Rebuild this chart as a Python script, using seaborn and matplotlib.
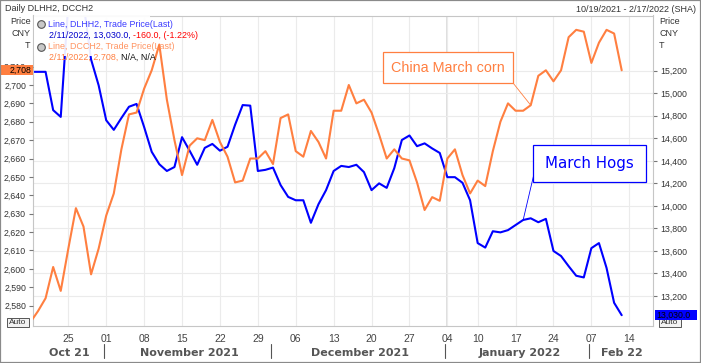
import pandas as pd
import matplotlib
matplotlib.use("Agg")
import matplotlib.pyplot as plt
import seaborn as sns
from matplotlib.lines import Line2D
from matplotlib.patches import Rectangle
from matplotlib.transforms import blended_transform_factory

# DCE trading days; data through 2/11/2022, axis runs to 2/17/2022
holidays = ["2022-01-03", "2022-01-31", "2022-02-01", "2022-02-02", "2022-02-03", "2022-02-04"]
axis_days = pd.bdate_range("2021-10-18", "2022-02-17").drop(pd.to_datetime(holidays))
data_days = axis_days[axis_days <= "2022-02-11"]

# DLHH2 live hogs (right scale)
hogs = [15190, 15190, 15190, 14850, 14790, 15800, 15850, 15800, 15300, 15070,
        14760, 14675, 14780, 14880, 14905, 14700, 14480, 14370, 14310, 14345,
        14610, 14490, 14365, 14515, 14550, 14490, 14525, 14720, 14895, 14890,
        14310, 14320, 14340, 14185, 14080, 14050, 14050, 13850, 14015, 14140,
        14310, 14355, 14345, 14365, 14300, 14140, 14200, 14160, 14335, 14585,
        14625, 14530, 14555, 14510, 14470, 14255, 14255, 14205, 14050, 13670,
        13630, 13775, 13765, 13785, 13830, 13875, 13890, 13855, 13885, 13600,
        13555, 13465, 13380, 13365, 13625, 13670, 13450, 13140, 13030]

# DCCH2 corn (left scale)
corn = [2571, 2577, 2584, 2601, 2588, 2611, 2633, 2623, 2597, 2611,
        2629, 2641, 2665, 2684, 2685, 2698, 2708, 2722, 2692, 2670,
        2651, 2667, 2671, 2670, 2681, 2669, 2661, 2647, 2648, 2660,
        2660, 2664, 2657, 2682, 2684, 2664, 2661, 2675, 2669, 2660,
        2686, 2686, 2700, 2690, 2692, 2685, 2673, 2660, 2665, 2660,
        2659, 2647, 2632, 2639, 2637, 2660, 2665, 2651, 2641, 2648,
        2645, 2664, 2680, 2690, 2686, 2686, 2689, 2705, 2708, 2702,
        2708, 2726, 2730, 2729, 2712, 2723, 2730, 2728, 2708]

day_ticks = ["2021-10-25", "2021-11-01", "2021-11-08", "2021-11-15", "2021-11-22",
             "2021-11-29", "2021-12-06", "2021-12-13", "2021-12-20", "2021-12-27",
             "2022-01-04", "2022-01-10", "2022-01-17", "2022-01-24", "2022-02-07",
             "2022-02-14"]
month_starts = ["2021-11-01", "2021-12-01", "2022-01-04", "2022-02-07"]
month_labels = ["Oct 21", "November 2021", "December 2021", "January 2022", "Feb 22"]

hog_ticks = list(range(13200, 15201, 200))
corn_ticks = list(range(2580, 2711, 10))

BLUE = "#0000ff"
ORANGE = "#ff7f40"
W, H = 701, 363

sns.set_style("white")
plt.rcParams["font.family"] = ["Liberation Sans", "DejaVu Sans"]

df = pd.DataFrame({"day": range(len(data_days)), "hogs": hogs, "corn": corn})
pos = {d: i for i, d in enumerate(axis_days)}
tick_idx = [pos[pd.Timestamp(d)] for d in day_ticks]
bound_idx = [pos[pd.Timestamp(d)] for d in month_starts]

fig = plt.figure(figsize=(W / 100, H / 100), dpi=100)
ax = fig.add_axes([33 / W, 1 - 326 / H, 620 / W, 310.5 / H])
ax2 = ax.twinx()


def fx(x):
    return x / W


def fy(y):
    return 1 - y / H


sns.lineplot(data=df, x="day", y="hogs", ax=ax, color=BLUE, linewidth=1.5, legend=False)
sns.lineplot(data=df, x="day", y="corn", ax=ax2, color=ORANGE, linewidth=1.5, legend=False)

xmax = len(axis_days) - 1 + 0.13
ax.set_xlim(0.34, xmax)
ax.set_ylim(12934, 15690)
ax2.set_ylim(2568.9, 2737.8)
for a in (ax, ax2):
    a.set_xlabel("")
    a.set_ylabel("")

# right scale (hogs) on the primary axes, left scale (corn) on the twin
ax.yaxis.tick_right()
ax2.yaxis.tick_left()
ax.set_yticks(hog_ticks)
ax.set_yticklabels([f"{v:,}" for v in hog_ticks])
ax2.set_yticks(corn_ticks)
ax2.set_yticklabels([f"{v:,}" for v in corn_ticks])
ax.tick_params(axis="y", length=3, width=0.8, color="#777", labelsize=6.3,
               labelcolor="#333", pad=2)
ax2.tick_params(axis="y", length=3, width=0.8, color="#777", labelsize=6.3,
                labelcolor="#333", pad=2)

ax.set_xticks(tick_idx)
ax.set_xticklabels([d[-2:] for d in day_ticks])
ax.tick_params(axis="x", length=2.5, width=0.8, color="#999", labelsize=7.5,
               labelcolor="#444", pad=3)

ax.grid(True, color="#ebebeb", linewidth=0.8)
ax.set_axisbelow(True)
ax.axvline(pos[pd.Timestamp("2022-01-04")], color="#dcdcdc", linewidth=1.3, zorder=0)
ax2.grid(False)
for s in ax.spines.values():
    s.set_color("#c6c6c6")
    s.set_linewidth(0.8)
for s in ax2.spines.values():
    s.set_visible(False)

# month row
trans = blended_transform_factory(ax.transData, fig.transFigure)
edges = [0.34] + bound_idx + [xmax]
for lab, a, b in zip(month_labels, edges[:-1], edges[1:]):
    ax.text((a + b) / 2, fy(352.5), lab, transform=trans, ha="center", va="center",
            fontsize=8, fontweight="bold", color="#555", family="DejaVu Sans")
for b in bound_idx:
    fig.add_artist(Line2D([b - 0.25, b - 0.25], [fy(344), fy(358)], transform=trans,
                          color="#555", linewidth=0.8))

# header
fig.text(fx(5), fy(8.5), "Daily DLHH2, DCCH2", fontsize=6.5, color="#333", va="center")
fig.text(fx(696), fy(9), "10/19/2021 - 2/17/2022 (SHA)", fontsize=6.5, color="#333",
         va="center", ha="right")
for t, yy in zip(["Price", "CNY", "T"], [22, 33.5, 45]):
    fig.text(fx(30.5), fy(yy), t, fontsize=6.5, color="#333", va="center", ha="right")
    fig.text(fx(659), fy(yy), t, fontsize=6.5, color="#333", va="center", ha="left")

# legend panel: lines run underneath it
fig.add_artist(Rectangle((fx(34), fy(56)), 116 / W, 39.5 / H, transform=fig.transFigure,
                         facecolor="white", edgecolor="none", alpha=0.92, zorder=1))

fig.canvas.draw()
renderer = fig.canvas.get_renderer()


def row(x, y, parts):
    for txt, col in parts:
        t = fig.text(fx(x), fy(y), txt, fontsize=6.4, color=col, va="center")
        x = t.get_window_extent(renderer).x1


for yy in (24.3, 46.7):
    fig.add_artist(Line2D([fx(40.5)], [fy(yy)], marker="o", markersize=5.5,
                          markerfacecolor="#c8c8c8", markeredgecolor="#555",
                          markeredgewidth=0.8, transform=fig.transFigure))
row(48.3, 24.3, [("Line, DLHH2, Trade Price(Last)", "#3a3aff")])
row(49, 35, [("2/11/2022, 13,030.0, ", "#0000cc"), ("-160.0, (-1.22%)", "#ff0000")])
row(48.3, 46.7, [("Line, DCCH2, Trade Price(Last)", "#ff9360")])
row(49, 57.3, [("2/11/2022, 2,708, ", ORANGE), ("N/A, N/A", "#111")])

# last-value markers on the scales
y_c = ax2.transData.transform((0, corn[-1]))[1]
fig.add_artist(Rectangle((0, (y_c - 5) / H), 33 / W, 10 / H, transform=fig.transFigure,
                         facecolor=ORANGE, edgecolor="none"))
fig.text(fx(31.5), y_c / H, f"{corn[-1]:,}", fontsize=6.3, color="#000", va="center",
         ha="right")
y_h = ax.transData.transform((0, hogs[-1]))[1]
fig.add_artist(Rectangle((fx(655), (y_h - 4.7) / H), 42 / W, 9.4 / H,
                         transform=fig.transFigure, facecolor=BLUE, edgecolor="none",
                         zorder=2))
fig.text(fx(656), y_h / H, f"{hogs[-1]:,.1f}", fontsize=6.3, color="#000", va="center",
         ha="left", zorder=3)

# Auto buttons
for x0 in (7, 659):
    fig.add_artist(Rectangle((fx(x0), fy(327)), 22 / W, 9 / H, transform=fig.transFigure,
                             facecolor="#f2f2f2", edgecolor="#555", linewidth=0.7,
                             zorder=1))
    fig.text(fx(x0 + 11), fy(322.5), "Auto", fontsize=6, color="#333", ha="center",
             va="center", zorder=1.5)

# callouts
fig.add_artist(Rectangle((fx(383.3), fy(83.3)), 130 / W, 31 / H, transform=fig.transFigure,
                         facecolor="white", edgecolor=ORANGE, linewidth=0.9))
fig.text(fx(448.3), fy(68), "China March corn", fontsize=10.4, color=ORANGE,
         ha="center", va="center")
ax2.annotate("", xy=(66, corn[66]), xycoords="data", xytext=(513.3, H - 83.3),
             textcoords="figure pixels",
             arrowprops=dict(arrowstyle="-", color=ORANGE, lw=0.6, shrinkA=0, shrinkB=0))

fig.add_artist(Rectangle((fx(533.3), fy(182)), 112.4 / W, 36.7 / H,
                         transform=fig.transFigure, facecolor="white", edgecolor=BLUE,
                         linewidth=0.9))
fig.text(fx(589.5), fy(163.5), "March Hogs", fontsize=10.8, color=BLUE, ha="center",
         va="center", family="DejaVu Sans")
ax.annotate("", xy=(65, hogs[65]), xycoords="data", xytext=(533.5, H - 176),
            textcoords="figure pixels",
            arrowprops=dict(arrowstyle="-", color=BLUE, lw=0.6, shrinkA=0, shrinkB=0))

# outer frame
fig.add_artist(Rectangle((0, 0), 1, 1, transform=fig.transFigure, fill=False,
                         edgecolor="#8a8a8a", linewidth=1.6))

fig.savefig("out.png", dpi=100)
